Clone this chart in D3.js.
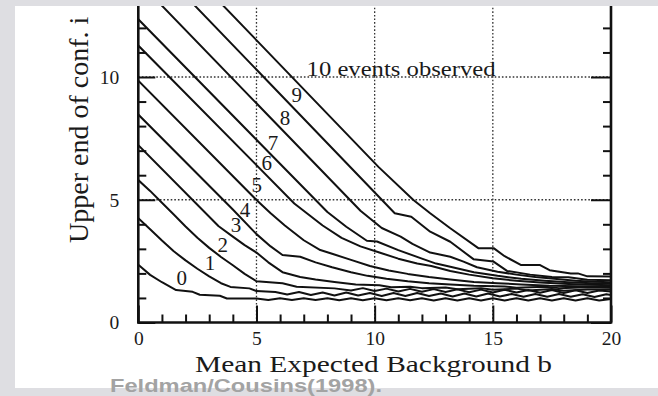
<!DOCTYPE html>
<html>
<head>
<meta charset="utf-8">
<script src="https://cdn.jsdelivr.net/npm/d3@7"></script>
<style>
  body { margin: 0; background: #dedee2; }
  svg { display: block; }
</style>
</head>
<body>
<svg></svg>
<script>
// upper end of the 90% interval vs mean background b, one list of [b, upper] per n observed
const n0 = [[0,2.35],[0.5,1.94],[1,1.64],[1.6,1.32],[2.3,1.25],[2.6,1.13],[3.45,1.09],[3.75,0.98],[5,0.98],[5.5,0.92],[6,0.99],[6.5,0.92],[7,0.99],[7.5,0.92],[8,0.99],[8.5,0.91],[9,0.99],[9.5,0.91],[10,0.99],[10.5,0.91],[11,0.99],[11.5,0.91],[12,0.99],[12.5,0.9],[13,0.99],[13.5,0.9],[14,0.99],[14.5,0.9],[15,0.99],[15.5,0.9],[16,0.99],[16.5,0.9],[17,0.99],[17.5,0.9],[18,0.99],[18.5,0.9],[19,0.99],[19.5,0.9],[20,0.96]];
const n1 = [[0,4.25],[0.5,3.8],[1,3.34],[1.5,2.9],[2,2.53],[2.5,2.19],[3,1.88],[3.5,1.6],[3.9,1.45],[4.7,1.39],[5,1.28],[5.8,1.24],[6.3,1.14],[6.8,1.24],[7.3,1.12],[7.8,1.22],[8.3,1.1],[8.8,1.22],[9.3,1.1],[9.8,1.2],[10.3,1.08],[10.8,1.2],[11.3,1.08],[11.8,1.2],[12.3,1.08],[12.8,1.18],[13.3,1.06],[13.8,1.18],[14.3,1.06],[14.8,1.18],[15.3,1.06],[15.8,1.16],[16.3,1.05],[16.8,1.16],[17.3,1.05],[17.8,1.16],[18.3,1.05],[18.8,1.15],[19.3,1.04],[19.8,1.15],[20,1.12]];
const n2 = [[0,5.8],[0.5,5.36],[1,4.88],[1.5,4.4],[2,3.91],[2.5,3.45],[3,3.04],[3.5,2.67],[4,2.33],[4.5,1.98],[5,1.68],[6.1,1.6],[6.7,1.46],[8.3,1.39],[9,1.3],[9.5,1.4],[10,1.28],[10.5,1.38],[11,1.26],[11.5,1.37],[12,1.25],[12.5,1.36],[13,1.24],[13.5,1.35],[14,1.23],[14.5,1.34],[15,1.22],[15.5,1.33],[16,1.22],[16.5,1.32],[17,1.21],[17.5,1.32],[18,1.2],[18.5,1.31],[19,1.2],[19.5,1.3],[20,1.26]];
const n3 = [[0,7.22],[3.4,3.92],[4,3.5],[4.5,3.15],[5,2.85],[5.5,2.45],[6.1,2.05],[6.85,1.85],[7.5,1.75],[8.3,1.65],[9.2,1.55],[10.2,1.52],[10.7,1.44],[11.5,1.46],[12,1.4],[13,1.43],[13.5,1.35],[14.5,1.4],[15,1.33],[16,1.38],[16.5,1.3],[17.5,1.36],[18,1.29],[19,1.34],[20,1.34]];
const n4 = [[0,8.47],[4,4.6],[5,3.6],[5.6,3.1],[6.1,2.75],[6.85,2.68],[7.5,2.45],[8.2,2.25],[9,2.05],[9.7,1.9],[10.5,1.78],[11.4,1.68],[12.3,1.6],[13.2,1.55],[14.2,1.5],[15.5,1.47],[16,1.42],[17.2,1.46],[17.8,1.4],[19,1.44],[20,1.42]];
const n5 = [[0,9.85],[5,4.99],[5.6,4.45],[6.2,3.95],[7,3.35],[7.7,2.95],[8.2,2.8],[9,2.55],[9.8,2.3],[10.6,2.12],[11.4,1.98],[12.3,1.85],[13.2,1.75],[14.2,1.65],[15.2,1.6],[16.2,1.55],[17.4,1.5],[18.6,1.48],[20,1.47]];
const n6 = [[0,11.28],[6.6,4.85],[7.2,4.4],[7.8,3.95],[8.6,3.45],[9.4,3.1],[10.2,2.85],[11,2.6],[11.8,2.4],[12.4,2.3],[13.2,2.1],[14,1.95],[15,1.8],[16,1.7],[17,1.63],[18.2,1.57],[19.2,1.54],[20,1.52]];
const n7 = [[0,12.35],[8,4.5],[8.8,3.9],[9.67,3.33],[10.1,3.3],[11,2.95],[12,2.6],[12.6,2.4],[13.2,2.27],[14.2,2.05],[15.2,1.9],[16.2,1.78],[17.2,1.7],[18.2,1.64],[19.2,1.6],[20,1.58]];
const n8 = [[0,13.9],[9.4,4.55],[10.3,3.85],[11.1,3.5],[11.6,3.2],[12.35,2.85],[13.2,2.68],[13.76,2.48],[14.33,2.25],[15.2,2.07],[16,1.95],[16.8,1.85],[17.6,1.78],[18.5,1.7],[19.3,1.66],[20,1.64]];
const n9 = [[0,15.3],[10.85,4.45],[11.55,4.31],[12.35,3.7],[13.2,3.29],[14.18,2.58],[15.03,2.48],[15.6,2.1],[16.58,1.95],[17.5,1.85],[18.2,1.84],[19,1.74],[20,1.72]];
const n10 = [[0,16.5],[10.16,6.34],[11.64,4.99],[12.35,4.45],[13.2,3.84],[14.4,3.02],[15.05,3.02],[15.5,2.7],[16.2,2.34],[17,2.34],[17.4,2.13],[18.3,2],[18.6,2],[19,1.88],[20,1.87]];

const curveNames = ['0','1','2','3','4','5','6','7','8','9'];
const labelSpots = [[1.84,1.81],[3.03,2.42],[3.57,3.16],[4.13,3.97],[4.51,4.58],[5.01,5.6],[5.43,6.5],[5.7,7.31],[6.21,8.33],[6.7,9.27]];
const topLabel = '10 events observed';
const topLabelAt = [7.12, 10.04];

const xTickLabels = [0, 5, 10, 15, 20];
const yTickLabels = [0, 5, 10];
const xGrid = [5, 10, 15];
const yGrid = [5, 10];

const width = 658;
const height = 396;
const serif = "'Liberation Serif', 'Times New Roman', serif";

const svg = d3.select('svg').attr('width', width).attr('height', height);

svg.append('rect').attr('width', width).attr('height', height).attr('fill', '#dedee2');
svg.append('rect').attr('x', 15).attr('y', 6).attr('width', width - 15).attr('height', 382).attr('fill', '#fff');

const x = d3.scaleLinear().domain([0, 20]).range([138.3, 611]);
const y = d3.scaleLinear().domain([0, 10]).range([322.5, 77]);

svg.append('defs')
    .append('clipPath')
    .attr('id', 'plot')
    .append('rect')
    .attr('x', x(0))
    .attr('y', 0)
    .attr('width', x(20) - x(0))
    .attr('height', y(0));

// dotted grid
const grid = svg.append('g')
    .attr('stroke', '#333')
    .attr('stroke-width', 1.3)
    .attr('stroke-dasharray', '1.6,2');

grid.selectAll('line.gx')
    .data(xGrid)
    .join('line')
    .attr('class', 'gx')
    .attr('x1', d => x(d)).attr('x2', d => x(d))
    .attr('y1', y(0)).attr('y2', 0);

grid.selectAll('line.gy')
    .data(yGrid)
    .join('line')
    .attr('class', 'gy')
    .attr('x1', x(0)).attr('x2', x(20))
    .attr('y1', d => y(d)).attr('y2', d => y(d));

// curves
const curves = [n0, n1, n2, n3, n4, n5, n6, n7, n8, n9, n10];
const line = d3.line().x(d => x(d[0])).y(d => y(d[1]));

svg.append('g')
    .attr('clip-path', 'url(#plot)')
    .selectAll('path')
    .data(curves)
    .join('path')
    .attr('d', line)
    .attr('fill', 'none')
    .attr('stroke', '#111')
    .attr('stroke-width', 2)
    .attr('stroke-linejoin', 'round');

// axes, ticks point inwards
const xAxis = svg.append('g')
    .attr('transform', `translate(0,${y(0)})`)
    .call(d3.axisBottom(x)
        .tickValues(d3.range(0, 21))
        .tickSize(-8)
        .tickPadding(9)
        .tickFormat(d => xTickLabels.includes(d) ? d : ''));
xAxis.selectAll('.tick line').attr('y2', d => d % 5 === 0 ? -17 : -8);

const yAxis = svg.append('g')
    .attr('transform', `translate(${x(0)},0)`)
    .call(d3.axisLeft(y)
        .tickValues(d3.range(0, 13))
        .tickSize(-8)
        .tickPadding(19)
        .tickFormat(d => yTickLabels.includes(d) ? d : ''));
yAxis.selectAll('.tick line').attr('x2', d => d % 5 === 0 ? 17 : 8);

const yAxisR = svg.append('g')
    .attr('transform', `translate(${x(20)},0)`)
    .call(d3.axisRight(y)
        .tickValues(d3.range(0, 13))
        .tickSize(-8)
        .tickFormat(''));
yAxisR.selectAll('.tick line').attr('x2', d => d % 5 === 0 ? -20 : -8);

svg.selectAll('.domain').remove();
svg.selectAll('.tick line').attr('stroke', '#111').attr('stroke-width', 2);
svg.selectAll('.tick text')
    .attr('font-family', serif)
    .attr('font-size', 19.5)
    .attr('fill', '#1a1a1a');

// frame
const frame = svg.append('g').attr('stroke', '#111').attr('stroke-width', 2.6);
frame.append('line').attr('x1', x(0)).attr('x2', x(20)).attr('y1', y(0)).attr('y2', y(0));
frame.append('line').attr('x1', x(0)).attr('x2', x(0)).attr('y1', y(0) + 1.3).attr('y2', 0);
frame.append('line').attr('x1', x(20)).attr('x2', x(20)).attr('y1', y(0) + 1.3).attr('y2', 0);

// curve labels
svg.append('g')
    .selectAll('text')
    .data(curveNames)
    .join('text')
    .attr('x', (d, i) => x(labelSpots[i][0]))
    .attr('y', (d, i) => y(labelSpots[i][1]))
    .attr('dy', '0.35em')
    .attr('text-anchor', 'middle')
    .attr('font-family', serif)
    .attr('font-size', 21)
    .attr('fill', '#1a1a1a')
    .text(d => d);

svg.append('text')
    .attr('x', x(topLabelAt[0]))
    .attr('y', y(topLabelAt[1]))
    .attr('font-family', serif)
    .attr('font-size', 21)
    .attr('fill', '#1a1a1a')
    .attr('textLength', 189)
    .attr('lengthAdjust', 'spacingAndGlyphs')
    .text(topLabel);

// axis titles
svg.append('text')
    .attr('x', 195)
    .attr('y', 372)
    .attr('font-family', serif)
    .attr('font-size', 24)
    .attr('fill', '#1a1a1a')
    .attr('textLength', 357)
    .attr('lengthAdjust', 'spacingAndGlyphs')
    .text('Mean Expected Background b');

svg.append('text')
    .attr('transform', 'translate(88,243) rotate(-90)')
    .attr('font-family', serif)
    .attr('font-size', 28)
    .attr('fill', '#1a1a1a')
    .text('Upper end of conf. i');

// the picture is cut off at the top
svg.append('rect').attr('width', width).attr('height', 6).attr('fill', '#dedee2');
svg.append('rect').attr('width', 15).attr('height', height).attr('fill', '#dedee2');

svg.append('text')
    .attr('x', 110)
    .attr('y', 391.5)
    .attr('font-family', "'Liberation Sans', Arial, sans-serif")
    .attr('font-weight', 'bold')
    .attr('font-size', 19)
    .attr('fill', '#a3a3a3')
    .attr('textLength', 272)
    .attr('lengthAdjust', 'spacingAndGlyphs')
    .text('Feldman/Cousins(1998).');
</script>
</body>
</html>
